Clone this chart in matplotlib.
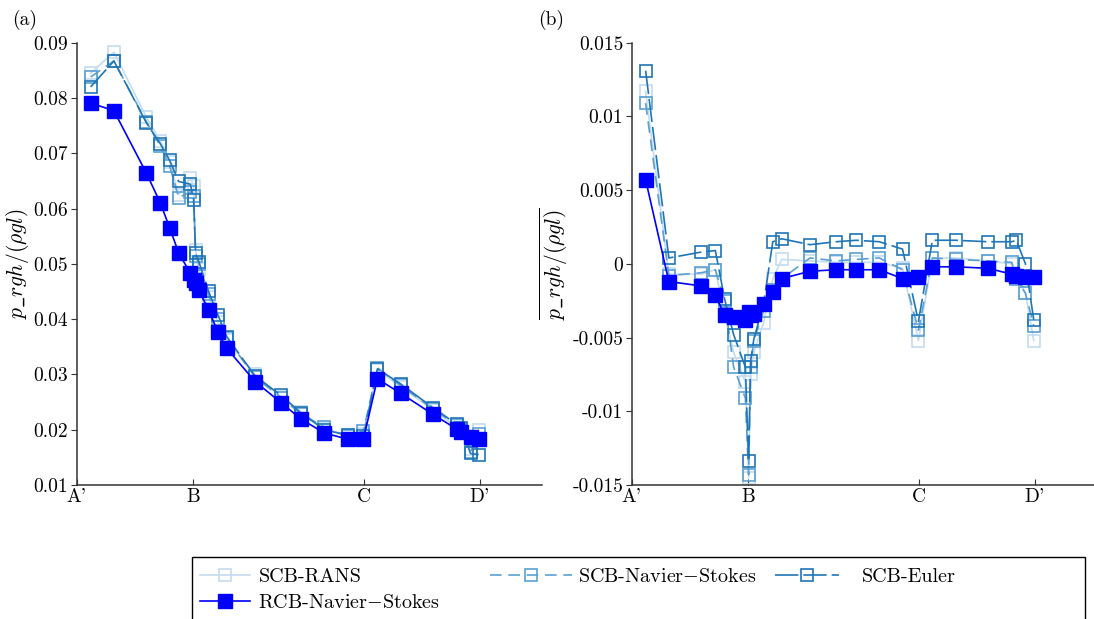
import numpy as np
import matplotlib
matplotlib.use("Agg")
import matplotlib.pyplot as plt
from matplotlib.patches import Rectangle
from matplotlib.ticker import FuncFormatter

plt.rcParams.update({
    "font.family": ["cmr10", "DejaVu Serif"],
    "mathtext.fontset": "cm",
    "axes.unicode_minus": False,
    "font.size": 14,
})

# probe stations along the section A' -> B -> C -> D'
station_ticks = [0.0, 1.0, 2.47, 3.47]
station_names = ["A'", "B", "C", "D'"]
s = [0.12, 0.32, 0.60, 0.72, 0.80, 0.877, 0.978, 1.006, 1.023, 1.051,
     1.135, 1.214, 1.292, 1.535, 1.758, 1.932, 2.13, 2.33, 2.467, 2.587,
     2.786, 3.064, 3.27, 3.309, 3.388, 3.459]

# (a) time-averaged pressure
mean_rans = [0.0845, 0.0883, 0.0765, 0.0722, 0.0685, 0.0625, 0.0655, 0.0640,
             0.0525, 0.0490, 0.0440, 0.0395, 0.0362, 0.0300, 0.0260, 0.0232,
             0.0202, 0.0190, 0.0192, 0.0308, 0.0278, 0.0236, 0.0205, 0.0198,
             0.0165, 0.0200]
mean_ns = [0.0838, 0.0867, 0.0757, 0.0713, 0.0677, 0.0620, 0.0630, 0.0622,
           0.0515, 0.0500, 0.0445, 0.0400, 0.0365, 0.0295, 0.0258, 0.0228,
           0.0205, 0.0188, 0.0198, 0.0312, 0.0280, 0.0238, 0.0208, 0.0200,
           0.0160, 0.0193]
mean_euler = [0.0820, 0.0867, 0.0755, 0.0717, 0.0687, 0.0649, 0.0644, 0.0616,
              0.0519, 0.0504, 0.0450, 0.0408, 0.0368, 0.0297, 0.0262, 0.0230,
              0.0200, 0.0190, 0.0188, 0.0310, 0.0283, 0.0240, 0.0210, 0.0203,
              0.0157, 0.0155]
mean_rcb = [0.0791, 0.0777, 0.0664, 0.0610, 0.0565, 0.0520, 0.0483, 0.0471,
            0.0465, 0.0452, 0.0417, 0.0377, 0.0347, 0.0287, 0.0249, 0.0219,
            0.0194, 0.0183, 0.0183, 0.0292, 0.0266, 0.0228, 0.0201, 0.0195,
            0.0186, 0.0184]

# (b) pressure fluctuation
fluc_rans = [0.0117, -0.0007, -0.0007, -0.0004, -0.0035, -0.0060, -0.0080,
             -0.0145, -0.0075, -0.0060, -0.0040, -0.0010, 0.0003, 0.0002,
             0.0001, 0.0001, 0.0001, -0.0003, -0.0052, 0.0004, 0.0004, 0.0002,
             0.0000, -0.0008, -0.0020, -0.0052]
fluc_ns = [0.0109, -0.0008, -0.0006, -0.0004, -0.0025, -0.0070, -0.0091,
           -0.0143, -0.0070, -0.0052, -0.0032, -0.0018, -0.0010, 0.0004,
           0.0002, 0.0003, 0.0004, -0.0004, -0.0045, 0.0004, 0.0003, 0.0002,
           0.0001, -0.0010, -0.0020, -0.0042]
fluc_euler = [0.0131, 0.0004, 0.0008, 0.0009, -0.0024, -0.0048, -0.0070,
              -0.0134, -0.0066, -0.0051, -0.0027, 0.0015, 0.0017, 0.0013,
              0.0015, 0.0016, 0.0015, 0.0010, -0.0039, 0.0016, 0.0016, 0.0015,
              0.0015, 0.0016, 0.0000, -0.0038]
fluc_rcb = [0.0057, -0.0012, -0.0015, -0.0021, -0.0035, -0.0036, -0.0038,
            -0.0033, -0.0035, -0.0034, -0.0027, -0.0019, -0.0010, -0.0005,
            -0.0004, -0.0004, -0.0004, -0.0010, -0.0009, -0.0002, -0.0002,
            -0.0003, -0.0007, -0.0008, -0.0009, -0.0009]

styles = {
    "SCB-RANS": dict(color="#c4dcf0", ls="-", lw=1.2, marker="s", ms=9,
                     mfc="none", mew=1.2),
    "SCB-Navier$-$Stokes": dict(color="#5b9fd1", ls=(0, (7, 4)), lw=1.2,
                                marker="s", ms=9, mfc="none", mew=1.2),
    "SCB-Euler": dict(color="#1f75b6", ls=(0, (14, 3)), lw=1.2, marker="s",
                      ms=9, mfc="none", mew=1.2),
    "RCB-Navier$-$Stokes": dict(color="#0000ff", ls="-", lw=1.2, marker="s",
                                ms=10.5, mfc="#0000ff", mew=1.0),
}

fig = plt.figure(figsize=(10.94, 6.19), dpi=100)
ax_a = fig.add_axes([0.0701, 0.2165, 0.425, 0.7145])
ax_b = fig.add_axes([0.5774, 0.2165, 0.425, 0.7145])

panels = [
    (ax_a, [mean_rans, mean_ns, mean_euler, mean_rcb], (0.01, 0.09),
     np.arange(0.01, 0.0901, 0.01), r"$p\_rgh/(\rho g l)$"),
    (ax_b, [fluc_rans, fluc_ns, fluc_euler, fluc_rcb], (-0.015, 0.015),
     np.arange(-0.015, 0.0151, 0.005), r"$\overline{p\_rgh/(\rho g l)}$"),
]

lines = {}
for ax, series, ylim, yticks, ylabel in panels:
    for name, vals in zip(styles, series):
        (ln,) = ax.plot(s, vals, label=name, **styles[name])
        lines[name] = ln
    ax.set_xlim(0, 4.0)
    ax.set_ylim(*ylim)
    ax.set_xticks(station_ticks)
    ax.set_xticklabels(station_names)
    ax.set_yticks(yticks)
    ax.yaxis.set_major_formatter(
        FuncFormatter(lambda v, _: "0" if abs(v) < 1e-9 else "%g" % round(v, 4)))
    ax.set_ylabel(ylabel, fontsize=15.5, labelpad=2)
    for side in ("top", "right"):
        ax.spines[side].set_visible(False)
    for side in ("left", "bottom"):
        ax.spines[side].set_color("#333333")
        ax.spines[side].set_linewidth(1.1)
    ax.tick_params(axis="x", direction="in", length=4, pad=2, colors="#333333",
                   labelcolor="black")
    ax.tick_params(axis="y", direction="out", length=4, pad=2,
                   colors="#333333", labelcolor="black")

fig.text(0.011, 0.967, "(a)", fontsize=14, va="center")
fig.text(0.492, 0.967, "(b)", fontsize=14, va="center")

# one legend per column so each column sits where it should;
# the shared box is drawn separately below
legend_cols = [
    (["SCB-RANS", "RCB-Navier$-$Stokes"], 0.1828, 2.5, 0.4),
    (["SCB-Navier$-$Stokes"], 0.4479, 4.05, 0.3),
    (["SCB-Euler"], 0.7084, 3.2, 1.1),
]
for names, x0, hlen, tpad in legend_cols:
    fig.legend([lines[k] for k in names], names, loc="upper left",
               bbox_to_anchor=(x0, 0.083), numpoints=1, handlelength=hlen,
               handletextpad=tpad, fontsize=14.5, frameon=False,
               borderaxespad=0, borderpad=0, labelspacing=0.4)
fig.add_artist(Rectangle((0.1755, -0.02), 0.8163, 0.1202,
                         transform=fig.transFigure, fill=False,
                         edgecolor="black", linewidth=1.0))

fig.savefig("out.png", dpi=100)
